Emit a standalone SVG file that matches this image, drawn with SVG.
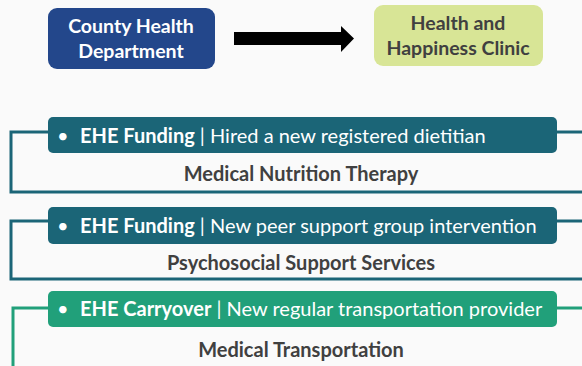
<svg xmlns="http://www.w3.org/2000/svg" width="582" height="366" viewBox="0 0 582 366">
  <style>
    .hdr { font-family: Lato, "Open Sans", sans-serif; font-weight: bold; font-size: 19.5px; text-anchor: middle; }
    .bar-text { font-family: Lato, "Open Sans", sans-serif; font-size: 20px; fill: #ffffff; }
    .bar-text .b { font-weight: bold; }
    .svc { font-family: Lato, "Open Sans", sans-serif; font-weight: bold; font-size: 20px; fill: #404040; text-anchor: middle; }
    .teal-line { fill: none; stroke: #1b6577; stroke-width: 3; }
    .green-line { fill: none; stroke: #21a07a; stroke-width: 3; }
  </style>
  <rect width="582" height="366" fill="#fafafa"/>

  <g id="county-health-department">
    <rect x="48" y="8" width="167" height="61" rx="9" fill="#23478b"/>
    <text class="hdr" x="131" y="33" fill="#ffffff">County Health</text>
    <text class="hdr" x="131" y="58" fill="#ffffff">Department</text>
  </g>

  <g id="health-happiness-clinic">
    <rect x="374" y="5" width="169" height="61" rx="9" fill="#d8e596"/>
    <text class="hdr" x="458" y="30" fill="#404040">Health and</text>
    <text class="hdr" x="458" y="55" fill="#404040">Happiness Clinic</text>
  </g>

  <g id="connectors">
    <polygon points="234,32 341,32 341,26 354,38.5 341,52 341,45 234,45" fill="#000000"/>
    <path class="teal-line" d="M48,132 H11 V192 H582 M557,132 H582"/>
    <path class="teal-line" d="M48,221 H11 V279 H582 M557,221 H582"/>
    <path class="green-line" d="M48,308 H13 V366 M557,308 H582"/>
  </g>

  <g id="medical-nutrition-therapy">
    <rect x="48" y="117" width="509" height="36" rx="5" fill="#1b6577"/>
    <text class="bar-text" x="57" y="143">•<tspan class="b" x="80">EHE Funding</tspan> | Hired a new registered dietitian</text>
    <text class="svc" x="301" y="181">Medical Nutrition Therapy</text>
  </g>

  <g id="psychosocial-support-services">
    <rect x="48" y="207" width="509" height="37" rx="5" fill="#1b6577"/>
    <text class="bar-text" x="57" y="233">•<tspan class="b" x="80">EHE Funding</tspan> | New peer support group intervention</text>
    <text class="svc" x="301" y="270">Psychosocial Support Services</text>
  </g>

  <g id="medical-transportation">
    <rect x="48" y="291" width="509" height="36" rx="5" fill="#21a07a"/>
    <text class="bar-text" x="57" y="316">•<tspan class="b" x="80">EHE Carryover</tspan> | New regular transportation provider</text>
    <text class="svc" x="301" y="357">Medical Transportation</text>
  </g>
</svg>
